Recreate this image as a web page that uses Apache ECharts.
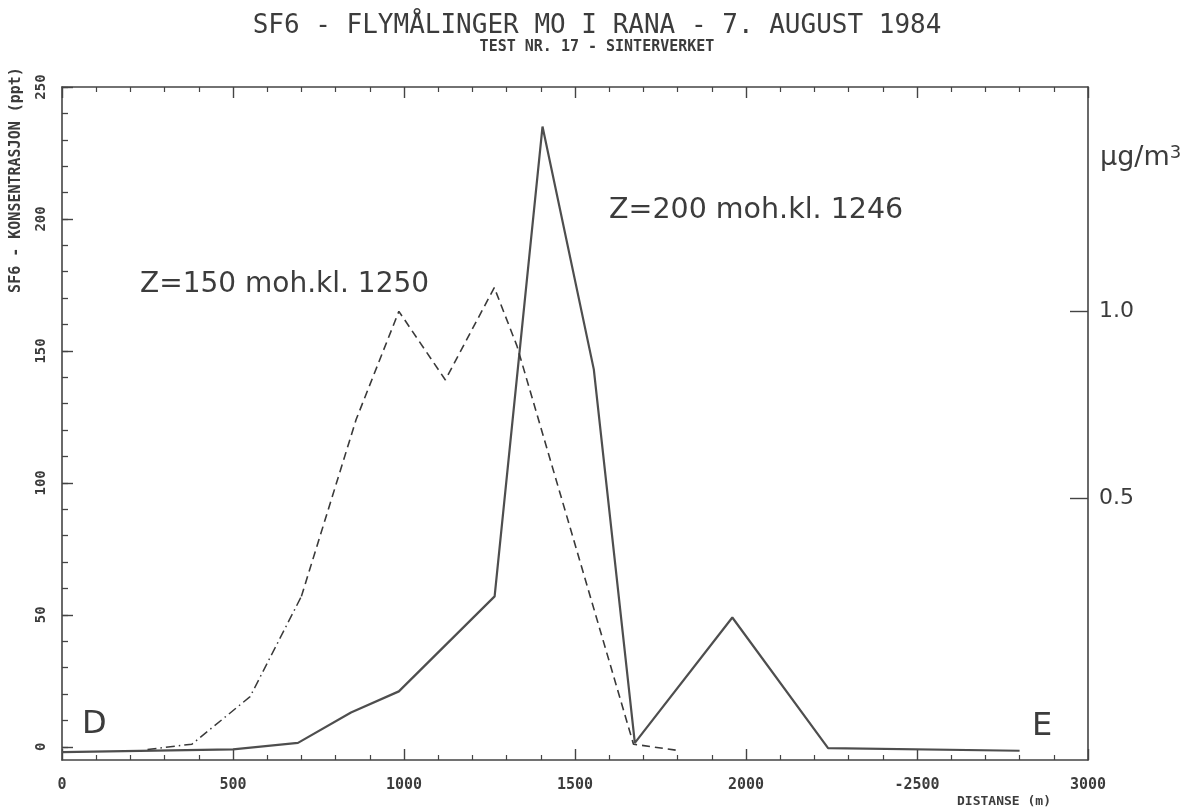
<!DOCTYPE html>
<html>
<head>
<meta charset="utf-8">
<script src="https://cdn.jsdelivr.net/npm/echarts@6/dist/echarts.min.js"></script>
<style>
  html, body { margin: 0; padding: 0; background: #ffffff; }
  #chart { width: 1194px; height: 811px; }
</style>
</head>
<body>
<div id="chart"></div>
<script>
// Distance axis (m)
const distanceTicks = [0, 500, 1000, 1500, 2000, 2500, 3000];
const distanceTickLabels = ['0', '500', '1000', '1500', '2000', '-2500', '3000'];

// SF6 concentration axis (ppt)
const pptMajorTicks = [0, 50, 100, 150, 200, 250];
const pptMinorTicks = [0, 10, 20, 30, 40, 50, 60, 70, 80, 90, 100, 110, 120, 130, 140, 150,
                       160, 170, 180, 190, 200, 210, 220, 230, 240, 250];

// Secondary scale (µg/m3)
const ugTicks = [0.5, 1.0];

// Z=200 moh., kl. 1246 (solid)
const z200Distance = [0, 500, 690, 845, 985, 1265, 1405, 1555, 1675, 1960, 2240, 2800];
const z200Ppt      = [-2, -1, 1.5, 13, 21, 57, 235, 143, 1.5, 49, -0.5, -1.5];

// Z=150 moh., kl. 1250 (dash-dot start, then dashed)
const z150DistanceA = [250, 380, 550, 700];
const z150PptA      = [-1, 1, 19, 57];
const z150DistanceB = [700, 860, 985, 1121, 1264, 1330, 1671, 1808];
const z150PptB      = [57, 124, 165, 139, 174, 152, 1, -1.5];

const zip = (xs, ys) => xs.map((x, i) => [x, ys[i]]);

const ink = '#3c3c3c';
const frameLine = { show: true, onZero: false, lineStyle: { color: '#444', width: 1.6 } };
const monoFont = 'DejaVu Sans Mono';
const sansFont = 'DejaVu Sans';

const chart = echarts.init(document.getElementById('chart'), null, { renderer: 'canvas' });

chart.setOption({
  backgroundColor: '#ffffff',
  animation: false,
  title: [
    {
      text: 'SF6 - FLYMÅLINGER MO I RANA - 7. AUGUST 1984',
      left: 'center', top: 8,
      textStyle: { fontFamily: monoFont, fontSize: 26, fontWeight: 'normal', color: ink }
    },
    {
      text: 'TEST NR. 17 - SINTERVERKET',
      left: 'center', top: 35,
      textStyle: { fontFamily: monoFont, fontSize: 15, fontWeight: 'bold', color: ink }
    }
  ],
  grid: { left: 62, right: 106, top: 87, bottom: 51, containLabel: false },
  xAxis: [
    {
      type: 'value', position: 'bottom', min: 0, max: 3000, interval: 500,
      axisLine: frameLine,
      axisTick: { show: true, inside: true, length: 11, lineStyle: { color: '#444', width: 1.4 } },
      minorTick: { show: true, splitNumber: 5, length: 5, lineStyle: { color: '#444', width: 1.2 } },
      axisLabel: {
        margin: 18, color: ink, fontFamily: monoFont, fontSize: 15, fontWeight: 'bold',
        formatter: v => distanceTickLabels[distanceTicks.indexOf(v)] ?? ''
      },
      splitLine: { show: false }, minorSplitLine: { show: false }
    },
    {
      type: 'value', position: 'top', min: 0, max: 3000, interval: 500,
      axisLine: frameLine,
      axisTick: { show: true, inside: true, length: 11, lineStyle: { color: '#444', width: 1.4 } },
      minorTick: { show: true, splitNumber: 5, length: 5, lineStyle: { color: '#444', width: 1.2 } },
      axisLabel: { show: false },
      splitLine: { show: false }, minorSplitLine: { show: false }
    }
  ],
  yAxis: [
    {
      type: 'value', position: 'left', min: -5, max: 250,
      axisLine: frameLine,
      axisTick: { show: true, inside: true, length: 6, customValues: pptMinorTicks,
                  lineStyle: { color: '#444', width: 1.3 } },
      axisLabel: {
        customValues: pptMajorTicks, rotate: 90, margin: 14,
        color: ink, fontFamily: monoFont, fontSize: 14, fontWeight: 'bold'
      },
      splitLine: { show: false }
    },
    {
      type: 'value', position: 'right', min: -0.2, max: 1.6,
      axisLine: frameLine,
      axisTick: { show: true, inside: true, length: 18, customValues: ugTicks,
                  lineStyle: { color: '#444', width: 1.4 } },
      axisLabel: {
        customValues: ugTicks, margin: 11, color: ink, fontFamily: sansFont, fontSize: 22,
        formatter: v => v.toFixed(1)
      },
      splitLine: { show: false }
    },
    {
      // longer ticks at every 50 ppt
      type: 'value', position: 'left', min: -5, max: 250,
      axisLine: { show: false, onZero: false },
      axisTick: { show: true, inside: true, length: 11, customValues: pptMajorTicks,
                  lineStyle: { color: '#444', width: 1.4 } },
      axisLabel: { show: false },
      splitLine: { show: false }
    }
  ],
  series: [
    {
      name: 'Z=200 moh.kl. 1246', type: 'line', xAxisIndex: 0, yAxisIndex: 0,
      data: zip(z200Distance, z200Ppt), symbol: 'none',
      lineStyle: { color: '#4e4e4e', width: 2.2 }
    },
    {
      name: 'Z=150 moh.kl. 1250', type: 'line', xAxisIndex: 0, yAxisIndex: 0,
      data: zip(z150DistanceA, z150PptA), symbol: 'none',
      lineStyle: { color: '#3a3a3a', width: 1.5, type: [9, 4, 1.5, 4] }
    },
    {
      name: 'Z=150 moh.kl. 1250', type: 'line', xAxisIndex: 0, yAxisIndex: 0,
      data: zip(z150DistanceB, z150PptB), symbol: 'none',
      lineStyle: { color: '#3a3a3a', width: 1.6, type: [8, 5] }
    }
  ],
  graphic: [
    {
      type: 'text', x: 16, y: 180, rotation: Math.PI / 2,
      style: { text: 'SF6 - KONSENTRASJON (ppt)', fill: ink, font: 'bold 15px "DejaVu Sans Mono"',
               align: 'center', verticalAlign: 'middle' }
    },
    {
      type: 'text', x: 140, y: 285,
      style: { text: 'Z=150 moh.kl. 1250', fill: ink, font: '28px "DejaVu Sans"',
               align: 'left', verticalAlign: 'middle' }
    },
    {
      type: 'text', x: 609, y: 211,
      style: { text: 'Z=200 moh.kl. 1246', fill: ink, font: '28.5px "DejaVu Sans"',
               align: 'left', verticalAlign: 'middle' }
    },
    {
      type: 'text', x: 82, y: 725,
      style: { text: 'D', fill: ink, font: '32px "DejaVu Sans"', align: 'left', verticalAlign: 'middle' }
    },
    {
      type: 'text', x: 1032, y: 727,
      style: { text: 'E', fill: ink, font: '32px "DejaVu Sans"', align: 'left', verticalAlign: 'middle' }
    },
    {
      type: 'text', x: 1100, y: 158,
      style: {
        text: 'µg/m{s|3}', fill: ink, font: '27px "DejaVu Sans"', align: 'left', verticalAlign: 'middle',
        rich: { s: { fontSize: 18, fontFamily: sansFont, verticalAlign: 'top', fill: ink } }
      }
    },
    {
      type: 'text', x: 1004, y: 802,
      style: { text: 'DISTANSE (m)', fill: ink, font: 'bold 13px "DejaVu Sans Mono"',
               align: 'center', verticalAlign: 'middle' }
    }
  ]
});
</script>
</body>
</html>
